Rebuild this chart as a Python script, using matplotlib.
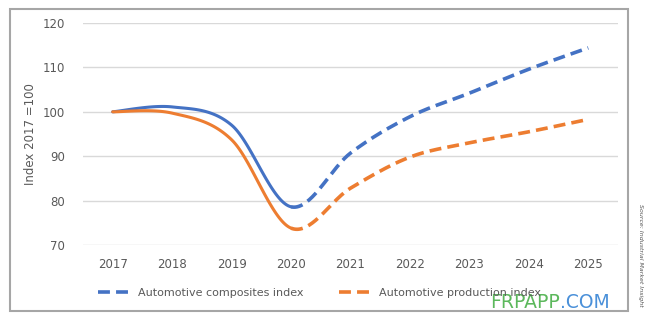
import matplotlib
matplotlib.use("Agg")
import matplotlib.pyplot as plt
from matplotlib.patches import Rectangle
from matplotlib.lines import Line2D
import numpy as np

years = [2017, 2018, 2019, 2020, 2021, 2022, 2023, 2024, 2025]
composites = [100.0, 101.1, 97.0, 78.6, 90.7, 98.9, 104.2, 109.6, 114.4]
production = [100.0, 99.7, 93.7, 73.8, 82.8, 89.8, 93.0, 95.5, 98.3]
labels = ["Automotive composites index", "Automotive production index"]
colors = ["#4472C4", "#ED7D31"]
split_year = 2020

def smooth_curve(xs, ys, i0, i1, steps=40):
    # Excel-style smoothed line: Catmull-Rom cubic Bezier through the data points
    xs = np.asarray(xs, float); ys = np.asarray(ys, float)
    P = np.column_stack([xs, ys])
    n = len(P)
    out = []
    for i in range(i0, i1):
        p0 = P[i - 1] if i > 0 else P[i]
        p1, p2 = P[i], P[i + 1]
        p3 = P[i + 2] if i + 2 < n else P[i + 1]
        c1 = p1 + (p2 - p0) / 6
        c2 = p2 - (p3 - p1) / 6
        t = np.linspace(0, 1, steps)[:, None]
        if i > i0:
            t = t[1:]
        b = ((1 - t) ** 3) * p1 + 3 * ((1 - t) ** 2) * t * c1 + 3 * (1 - t) * t ** 2 * c2 + t ** 3 * p2
        out.append(b)
    return np.vstack(out)

fig = plt.figure(figsize=(6.5, 3.25), dpi=100)
ax = fig.add_axes([83 / 650, 1 - 245 / 325, (618 - 83) / 650, (245 - 23) / 325])

dash = (0, (3.3, 1.7))
k = years.index(split_year)
for vals, col in zip([composites, production], colors):
    a = smooth_curve(years, vals, 0, k)
    ax.plot(a[:, 0], a[:, 1], color=col, lw=2.2, solid_capstyle="round")
    b = smooth_curve(years, vals, k, len(years) - 1)
    ax.plot(b[:, 0], b[:, 1], color=col, lw=2.6, linestyle=dash, dash_capstyle="butt")

ax.set_xlim(2016.5, 2025.5)
ax.set_ylim(70, 120)
ax.set_xticks(years)
ax.set_xticklabels([str(y) for y in years])
ax.set_yticks(range(70, 121, 10))
ax.grid(axis="y", color="#d9d9d9", lw=1)
ax.set_axisbelow(True)
for s in ax.spines.values():
    s.set_visible(False)
ax.tick_params(length=0, colors="#595959", labelsize=8.5, pad=9)
ax.tick_params(axis="y", pad=13)
ax.set_ylabel("Index 2017 =100", color="#595959", fontsize=8.5)
ax.yaxis.set_label_coords((37 - 83) / 535, 0.5)

handles = [Line2D([0], [0], color=c, lw=2.6, linestyle=dash) for c in colors]
fig.legend(handles, labels, loc="center left", bbox_to_anchor=(88 / 650, 1 - 293 / 325),
           ncol=2, frameon=False, fontsize=8, labelcolor="#595959",
           handlelength=3.0, columnspacing=3.2, handletextpad=0.6)

fig.add_artist(Rectangle((10 / 650, 1 - 311 / 325), 618 / 650, 302 / 325,
                         transform=fig.transFigure, fill=False,
                         edgecolor="#a6a6a6", lw=1.5))
fig.text(641 / 650, 1 - 255 / 325, "Source: Industrial Market Insight", rotation=270,
         fontsize=4.5, style="italic", color="#555555", ha="center", va="center")
wm = fig.text(490 / 650, 1 - 303 / 325, "FRPAPP", fontsize=13.5, color="#5cb85c",
              ha="left", va="center", fontweight="medium")
fig.canvas.draw()
bb = wm.get_window_extent()
fig.text(bb.x1 / 650, 1 - 303 / 325, ".COM", fontsize=13.5, color="#4a90d9",
         ha="left", va="center")

fig.savefig("out.png", dpi=100)
